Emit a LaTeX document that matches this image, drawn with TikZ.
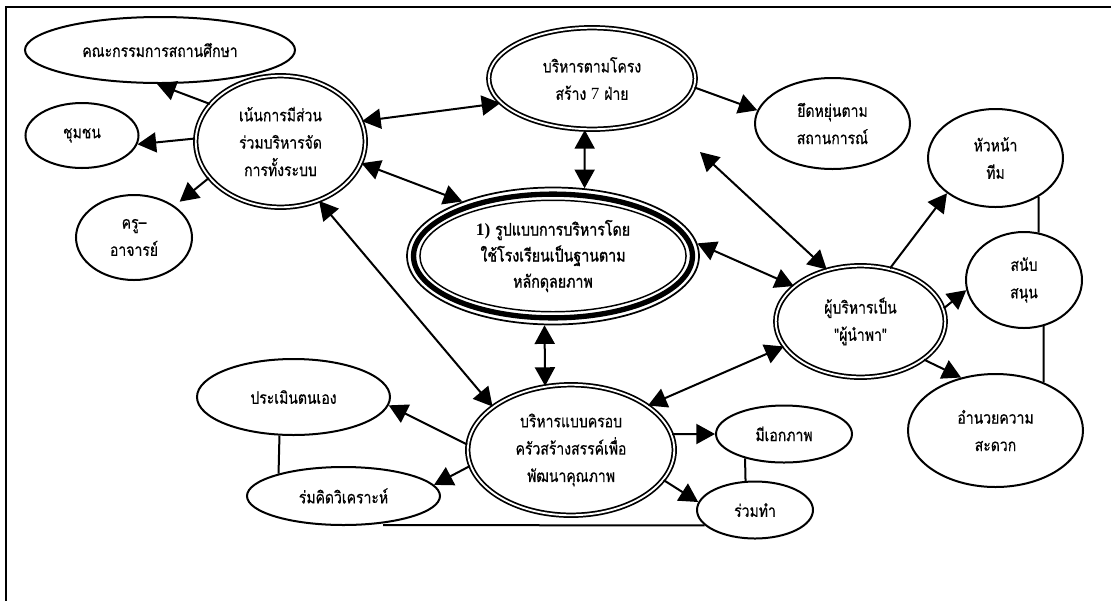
\documentclass[tikz,border=0pt]{standalone}
\usepackage{fontspec}
\setmainfont{Liberation Serif}
\newfontfamily\thai[Script=Thai, FakeStretch=0.82, FakeBold=0.5]{Loma}
\newfontfamily\thaibold[Script=Thai, FakeStretch=0.82, FakeBold=1.2]{Loma}
\usetikzlibrary{shapes.geometric,arrows.meta}

\tikzset{
  oval/.style 2 args={ellipse, draw, line width=1.5pt, inner sep=0pt, align=center,
    minimum width=(#1)*0.75pt, minimum height=(#2)*0.75pt,
    font=\thai\fontsize{12.8}{20.5}\selectfont},
  twin/.style 2 args={oval={#1-5.5}{#2-5.5}, double, double distance=1.4pt, line width=1.3pt},
  core/.style={ellipse, draw, line width=1.3pt, inner sep=0pt, align=center,
    minimum width=292*0.75pt, minimum height=137*0.75pt,
    font=\thaibold\fontsize{13}{19.5}\selectfont},
  tip/.tip={Triangle[length=14pt,width=15pt]},
  link/.style={line width=1.5pt, -tip},
  twoway/.style={line width=1.5pt, tip-tip},
  tie/.style={line width=1.5pt},
}

\begin{document}
\begin{tikzpicture}[x=0.75pt, y=-0.75pt]
\useasboundingbox (0,0) rectangle (1111,601);

% page frame
\draw[line width=1.8pt] (1111,7) -- (6,7) -- (6,601);

% ellipses
\node[oval={270}{66}] (kana) at (160,50) {คณะกรรมการสถานศึกษา};
\node[oval={113}{65}] (chum) at (82,135.5) {ชุมชน};
\node[twin={175}{137}] (nen) at (280.5,141.5) {เน้นการมีส่วน\\ร่วมบริหารจัด\\การทั้งระบบ};
\node[oval={116}{85}] (kru) at (134,237.5) {ครู–\\อาจารย์};
\node[twin={212}{107}] (kong) at (592,78.5) {บริหารตามโครง\\สร้าง {\rmfamily 7} ฝ่าย};
\node[oval={155}{91}] (yud) at (832.5,123.5) {ยึดหยุ่นตาม\\สถานการณ์};
\node[oval={135}{98}] (hua) at (995.5,158) {หัวหน้า\\ทีม};
\node[oval={116}{96}] (sanub) at (1024,280) {สนับ\\สนุน};
\node[twin={175}{117}] (pu) at (860.5,321.5) {ผู้บริหารเป็น\\"ผู้นำพา"};
\node[oval={175}{113}] (amnuay) at (995.5,430.5) {อำนวยความ\\สะดวก};
\node[core] (main) at (553,256) {{\rmfamily\bfseries 1)} รูปแบบการบริหารโดย\\ใช้โรงเรียนเป็นฐานตาม\\หลักดุลยภาพ};
\draw[line width=4pt] (main.center) ellipse [x radius=104.6pt, y radius=46.4pt];
\draw[line width=1.1pt] (main.center) ellipse [x radius=99.8pt, y radius=41.8pt];
\node[twin={212}{136}] (krob) at (571,450) {บริหารแบบครอบ\\ครัวสร้างสรรค์เพื่อ\\พัฒนาคุณภาพ};
\node[oval={193}{76}] (pramern) at (293.5,397) {ประเมินตนเอง};
\node[oval={193}{58}] (kid) at (343.5,496) {ร่มคิดวิเคราะห์};
\node[oval={136}{57}] (aek) at (784,434) {มีเอกภาพ};
\node[oval={116}{57}] (tam) at (755,510) {ร่วมทำ};

% connectors around the participation ellipse
\draw[link] (nen.152) -- (kana.-95);
\draw[link] (nen.178) -- (chum.-9);
\draw[link, shorten >=5pt] (nen.-153) -- (kru.38);
\draw[twoway] (nen.14) -- (kong.195);
\draw[twoway] (nen.-15) -- (main.149);
\draw[twoway] (nen.-57) -- (krob.151);

% connectors of the central model
\draw[twoway] (kong.-98) -- (main.65);
\draw[twoway] (main.-97) -- (krob.112);
\draw[link] (kong.-5) -- (yud.170);
\coordinate (loose) at (700,152);
\draw[twoway] (loose) -- (pu.123);
\draw[twoway] (main.5) -- (pu.152);
\draw[twoway] (pu.-162) -- (krob.30);

% leader ellipse
\draw[link] (pu.61) -- (hua.-144);
\draw[link] (pu.9) -- (sanub.-170);
\draw[link] (pu.-31) -- (amnuay.123);
\draw[tie] (hua.-42) -- (sanub.73);
\draw[tie] (sanub.-67) -- (amnuay.45);

% family-style management
\draw[link] (krob.177) -- (pramern.-5);
\draw[link] (krob.-171) -- (kid.7);
\draw[link] (krob.9) -- (aek.west);
\draw[link] (krob.-18) -- (tam.172);
\draw[tie] (pramern.-110) -- (kid.161);
\draw[tie] (aek.-148) -- (tam.108);
\coordinate (kidfoot) at (383,525.1);
\draw[tie] (kidfoot) -- (tam.-163);
\end{tikzpicture}
\end{document}
